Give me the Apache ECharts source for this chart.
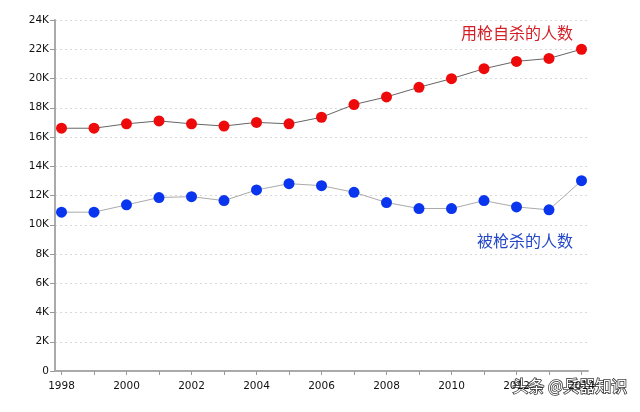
<!DOCTYPE html>
<html>
<head>
<meta charset="utf-8">
<script src="https://cdn.jsdelivr.net/npm/echarts@6/dist/echarts.min.js"></script>
<style>html,body{margin:0;padding:0;background:#fff;}#main{width:640px;height:412px;}</style>
</head>
<body>
<div id="main"></div>
<script>
const years = [1998,1999,2000,2001,2002,2003,2004,2005,2006,2007,2008,2009,2010,2011,2012,2013,2014];
const suicideByGun = [16600,16600,16900,17100,16900,16750,17000,16900,17350,18220,18740,19400,19990,20670,21170,21370,22000];
const killedByGun = [10860,10860,11360,11860,11920,11650,12380,12810,12670,12220,11520,11110,11110,11650,11220,11020,13010];
const xLabelYears = [1998,2000,2002,2004,2006,2008,2010,2012,2014];
const yTicks = [0,2000,4000,6000,8000,10000,12000,14000,16000,18000,20000,22000,24000];
const seriesNames = ['用枪自杀的人数','被枪杀的人数'];
const watermark = '头条 @兵器知识';

const chart = echarts.init(document.getElementById('main'));
const font = 'DejaVu Sans';
chart.setOption({
  animation: false,
  backgroundColor: '#fff',
  grid: {left: 55, right: 52, top: 20, bottom: 41},
  xAxis: {
    type: 'value',
    min: 1997.8,
    max: 2014.2,
    axisLine: {show: true, lineStyle: {color: '#aaa', width: 2}},
    axisTick: {show: true, customValues: years, length: 4, lineStyle: {color: '#999'}},
    axisLabel: {customValues: xLabelYears, color: '#111', fontFamily: font, fontSize: 10.5, margin: 10,
      formatter: v => String(v)},
    splitLine: {show: false}
  },
  yAxis: {
    type: 'value',
    min: 0,
    max: 24000,
    interval: 2000,
    axisLine: {show: true, lineStyle: {color: '#aaa', width: 2}},
    axisTick: {show: true, length: 5, lineStyle: {color: '#999'}},
    axisLabel: {color: '#111', fontFamily: font, fontSize: 10.5, margin: 6,
      customValues: yTicks,
      formatter: v => v === 0 ? '0' : (v / 1000) + 'K'},
    splitLine: {show: true, lineStyle: {color: '#d8d8d8', type: [2, 3], width: 1}}
  },
  series: [
    {
      name: seriesNames[0], type: 'line',
      data: years.map((y, i) => [y, suicideByGun[i]]),
      symbol: 'circle', symbolSize: 11,
      lineStyle: {color: '#666', width: 1},
      itemStyle: {color: '#ee0a0a'}
    },
    {
      name: seriesNames[1], type: 'line',
      data: years.map((y, i) => [y, killedByGun[i]]),
      symbol: 'circle', symbolSize: 11,
      lineStyle: {color: '#aaa', width: 1},
      itemStyle: {color: '#0a35ee'}
    }
  ],
  graphic: [
    {type: 'text', right: 67, top: 25, style: {text: seriesNames[0], fill: '#d41f26', font: '16px "Noto Sans CJK SC"'}},
    {type: 'text', right: 67, top: 233, style: {text: seriesNames[1], fill: '#2347c8', font: '16px "Noto Sans CJK SC"'}},
    {type: 'text', right: 12, top: 377, style: {text: watermark, fill: '#fff', stroke: '#333', lineWidth: 1.5, font: '16px "Noto Sans CJK SC"'}}
  ]
});
</script>
</body>
</html>
